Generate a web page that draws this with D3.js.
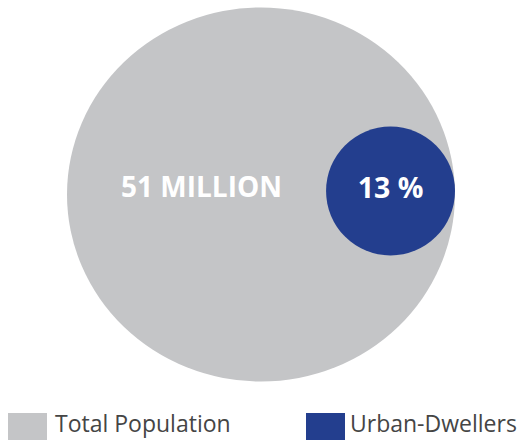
<!DOCTYPE html>
<html>
<head>
<meta charset="utf-8">
<script src="https://cdn.jsdelivr.net/npm/d3@7"></script>
<style>
  html, body { margin: 0; padding: 0; background: #fff; }
  svg { display: block; font-family: "Open Sans", "Noto Sans", sans-serif; }
</style>
</head>
<body>
<svg id="chart" width="519" height="440"></svg>
<script>
  // data
  const series = ["Total Population", "Urban-Dwellers"];
  const shares = [100, 13];
  const labels = ["51 MILLION", "13 %"];
  const colors = ["#c4c5c7", "#233e8e"];

  const svg = d3.select("#chart");
  const cx = 261;
  const cy = 194.5;

  // radius scales (area-ish), slightly wider than tall like the original
  const rx = d3.scalePow().exponent(0.54).domain([0, 100]).range([0, 194]);
  const ry = d3.scalePow().exponent(0.54).domain([0, 100]).range([0, 187]);

  const bigRx = rx(shares[0]);
  const bigRy = ry(shares[0]);
  const smallR = rx(shares[1]);

  svg.append("ellipse")
    .attr("cx", cx)
    .attr("cy", cy)
    .attr("rx", bigRx)
    .attr("ry", bigRy)
    .attr("fill", colors[0]);

  const sx = cx + bigRx - smallR;
  const sy = 191;

  svg.append("circle")
    .attr("cx", sx)
    .attr("cy", sy)
    .attr("r", smallR)
    .attr("fill", colors[1]);

  svg.append("text")
    .attr("x", (cx - bigRx + (sx - smallR)) / 2 + 5)
    .attr("y", 197)
    .attr("text-anchor", "middle")
    .attr("fill", "#fff")
    .attr("font-weight", 700)
    .attr("font-size", 28)
    .text(labels[0]);

  svg.append("text")
    .attr("x", sx)
    .attr("y", 198)
    .attr("text-anchor", "middle")
    .attr("fill", "#fff")
    .attr("font-weight", 700)
    .attr("font-size", 28.5)
    .text(labels[1]);

  // legend
  const legendX = d3.scaleOrdinal().domain(series).range([8, 306]);
  const legend = svg.append("g")
    .selectAll("g")
    .data(series)
    .join("g")
    .attr("transform", d => `translate(${legendX(d)},413)`);

  legend.append("rect")
    .attr("width", 39)
    .attr("height", 28)
    .attr("fill", (d, i) => colors[i]);

  legend.append("text")
    .attr("x", (d, i) => i === 0 ? 47 : 44)
    .attr("y", 18.5)
    .attr("fill", "#454545")
    .attr("font-size", 23)
    .text(d => d);
</script>
</body>
</html>
